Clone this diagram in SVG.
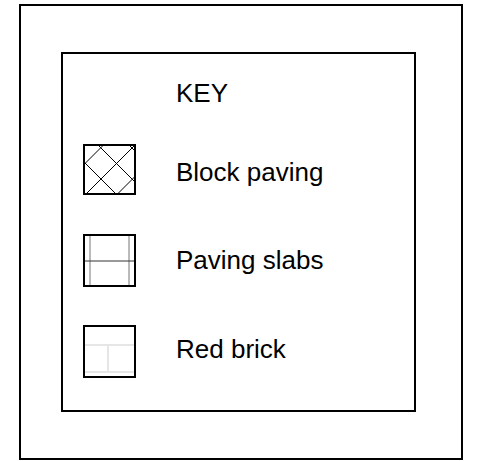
<svg xmlns="http://www.w3.org/2000/svg" width="477" height="461" viewBox="0 0 477 461">
<style>
.frame{fill:none;stroke:#000;stroke-width:2}
.sym{fill:#fff;stroke:none}
.border{fill:none;stroke:#000;stroke-width:2}
.hatch{stroke:#000;stroke-width:1;fill:none}
.lbl{font-family:"Liberation Sans",Arial,sans-serif;font-size:26px;fill:#000}
</style>
<defs>
<clipPath id="bpclip"><rect x="84" y="145" width="51" height="49"/></clipPath>
</defs>
<rect width="477" height="461" fill="#fff"/>
<g id="outer"><rect class="frame" x="20" y="5" width="442" height="454"/></g>
<g id="key-box"><rect class="frame" x="62" y="53" width="353" height="358"/></g>
<g id="key-title"><text class="lbl" x="176" y="102">KEY</text></g>
<g id="block-paving">
<rect class="sym" x="84" y="145" width="51" height="49"/>
<g clip-path="url(#bpclip)" class="hatch">
<line x1="60" y1="76" x2="160" y2="176"/>
<line x1="60" y1="107" x2="160" y2="207"/>
<line x1="60" y1="138" x2="160" y2="238"/>
<line x1="60" y1="169" x2="160" y2="269"/>
<line x1="60" y1="188.5" x2="160" y2="88.5"/>
<line x1="60" y1="220" x2="160" y2="120"/>
<line x1="60" y1="251.5" x2="160" y2="151.5"/>
</g>
<rect class="border" x="84" y="145" width="51" height="49"/>
<text class="lbl" x="176" y="181">Block paving</text>
</g>
<g id="paving-slabs">
<rect class="sym" x="84" y="235" width="51" height="51"/>
<line x1="90" y1="235" x2="90" y2="286" stroke="#777" stroke-width="1"/>
<line x1="129" y1="235" x2="129" y2="286" stroke="#777" stroke-width="1"/>
<line x1="84" y1="261" x2="135" y2="261" stroke="#333" stroke-width="1"/>
<rect class="border" x="84" y="235" width="51" height="51"/>
<text class="lbl" x="176" y="269">Paving slabs</text>
</g>
<g id="red-brick">
<rect class="sym" x="84" y="326" width="51" height="51"/>
<g stroke="#e6e6e6" stroke-width="2">
<line x1="85" y1="345" x2="134" y2="345"/>
<line x1="85" y1="372" x2="134" y2="372"/>
<line x1="108" y1="345" x2="108" y2="372"/>
</g>
<rect class="border" x="84" y="326" width="51" height="51"/>
<text class="lbl" x="176" y="358">Red brick</text>
</g>
</svg>
